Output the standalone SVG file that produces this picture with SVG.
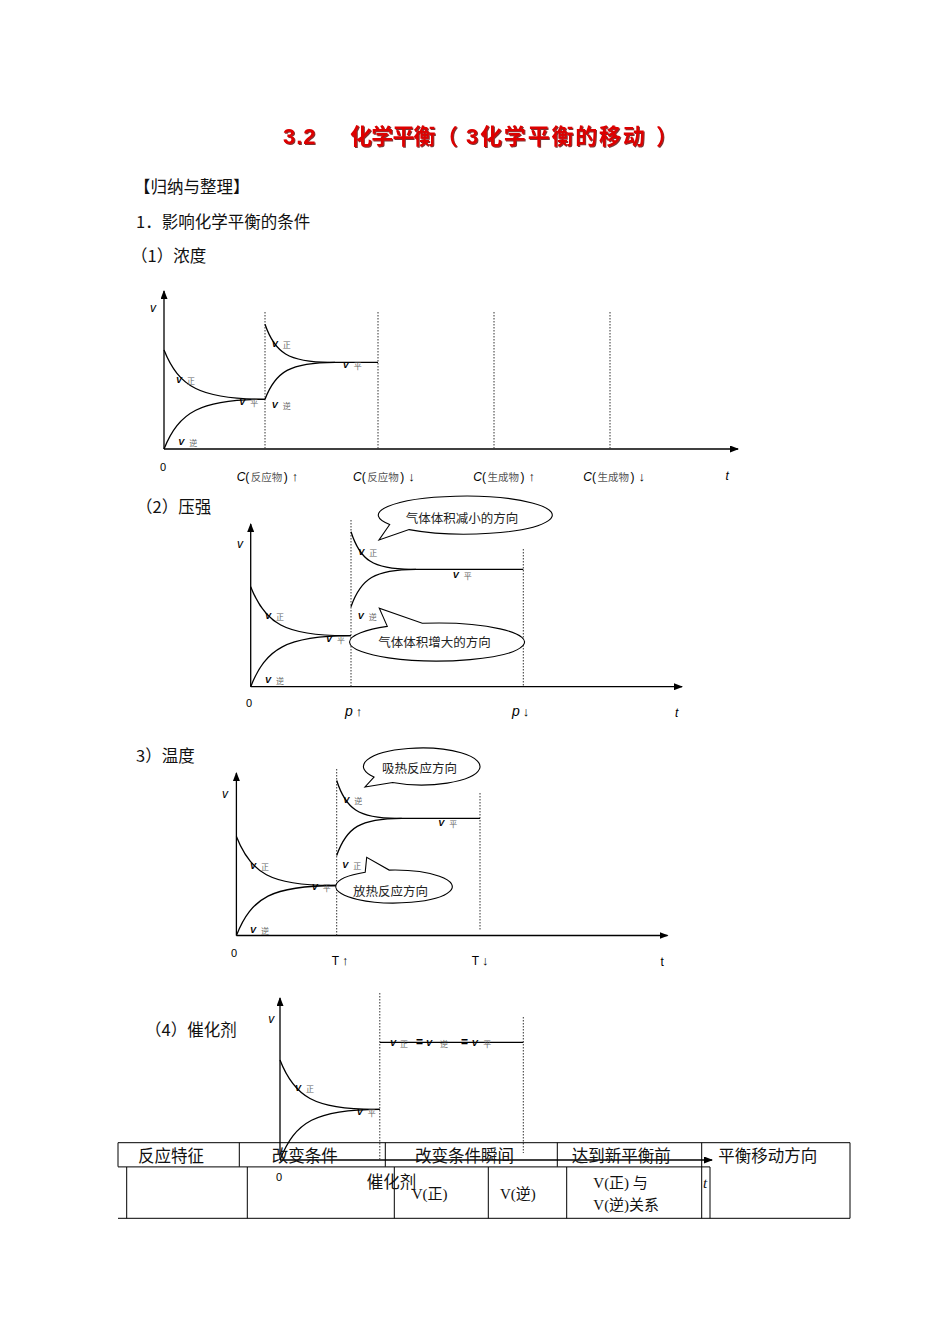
<svg xmlns="http://www.w3.org/2000/svg" width="950" height="1344" viewBox="0 0 950 1344">
<defs>
<marker id="arr" markerUnits="userSpaceOnUse" markerWidth="9" markerHeight="7" refX="8" refY="3.5" orient="auto">
<path d="M0,0 L9,3.5 L0,7 z" fill="#000"/>
</marker>
<filter id="sh" x="-5%" y="-20%" width="110%" height="140%">
<feDropShadow dx="1" dy="1" stdDeviation="0.4" flood-color="#5a0000" flood-opacity="0.8"/>
</filter>
<style>
.title{font-family:"Liberation Sans","Noto Sans CJK SC",sans-serif;font-size:22px;font-weight:bold;fill:#dd0000}
.cn{font-family:"Noto Sans CJK SC",sans-serif;font-size:16.5px;fill:#111}
.ax{stroke:#000;stroke-width:1.3;fill:none}
.cv{stroke:#000;stroke-width:1.3;fill:none}
.ds{stroke:#333;stroke-width:1;stroke-dasharray:1.5 1.5;fill:none}
.ai{font-family:"Liberation Sans","DejaVu Sans",sans-serif;font-style:italic;font-size:12px;fill:#000}
.vl{font-family:"Liberation Sans","DejaVu Sans",sans-serif;font-style:italic;font-weight:bold;font-size:9px;fill:#000}
.sb{font-family:"Noto Sans CJK SC",sans-serif;font-style:normal;font-weight:normal;font-size:8px;fill:#666}
.zr{font-family:"Liberation Sans",sans-serif;font-size:11px;fill:#000}
.cl{font-family:"Liberation Sans","DejaVu Sans",sans-serif;font-size:12px;fill:#000}
.cc{font-family:"Noto Sans CJK SC",sans-serif;font-size:10.5px;fill:#555}
.bub{fill:#fff;stroke:#000;stroke-width:1.1}
.bt{font-family:"Noto Sans CJK SC",sans-serif;font-size:12.5px;fill:#222;text-anchor:middle}
.tb{stroke:#000;stroke-width:1;fill:none}
.tt{font-family:"Liberation Serif","Noto Sans CJK SC",serif;font-size:15px;fill:#111}
</style>
</defs>
<rect width="950" height="1344" fill="#fff"/>

<g id="title" filter="url(#sh)">
<text class="title" y="144"><tspan x="283" letter-spacing="1">3.2</tspan><tspan x="350" letter-spacing="-0.8">化学平衡</tspan><tspan x="436">（</tspan><tspan x="466" letter-spacing="1.8">3化学平衡的移动</tspan><tspan x="656">）</tspan></text>
</g>

<g id="headings">
<text class="cn" x="134" y="193">【归纳与整理】</text>
<text class="cn" x="136" y="228">1．影响化学平衡的条件</text>
<text class="cn" x="131" y="262">（1）浓度</text>
<text class="cn" x="136" y="513">（2）压强</text>
<text class="cn" x="136" y="762">3）温度</text>
<text class="cn" x="145" y="1036">（4）催化剂</text>
</g>

<g id="connectors">
<!-- graph 1 -->
<path class="ax" d="M164,449 V291" marker-end="url(#arr)"/>
<path class="ax" d="M164,449 H738" marker-end="url(#arr)"/>
<path class="ds" d="M265,312 V449 M378,312 V449 M494,312 V449 M610,312 V449"/>
<path class="cv" d="M164,350 C179,387 200,399.3 265,399.3"/>
<path class="cv" d="M164,449 C179,412 200,399.3 265,399.3"/>
<path class="cv" d="M265,324.3 C274.8,352.8 288.4,362.3 330,362.3 L378,362.3"/>
<path class="cv" d="M265,399.3 C275.5,371.6 290.2,362.3 335,362.3"/>
<!-- graph 2 -->
<path class="ax" d="M250.7,686.7 V524" marker-end="url(#arr)"/>
<path class="ax" d="M250.7,686.7 H682" marker-end="url(#arr)"/>
<path class="ds" d="M351,520 V686.7 M523.3,549 V686.7"/>
<path class="cv" d="M250.7,586.7 C265,623.5 284.9,635.7 345.7,635.7 L351,635.7"/>
<path class="cv" d="M250.7,686.7 C265.7,648.4 286.7,635.7 350.7,635.7"/>
<path class="cv" d="M351,531.7 C360,559.9 372.6,569.3 411,569.3 L523.3,569.3"/>
<path class="cv" d="M351,606.7 C360.8,578.7 374.4,569.3 416,569.3"/>
<!-- graph 3 -->
<path class="ax" d="M236.4,935.5 V773" marker-end="url(#arr)"/>
<path class="ax" d="M236.4,935.5 H667.5" marker-end="url(#arr)"/>
<path class="ds" d="M336.7,769 V935.5 M480,793 V930"/>
<path class="cv" d="M236.4,836.5 C250.7,873.3 270.6,885.5 331.4,885.5 L336.7,885.5"/>
<path class="cv" d="M236.4,935.5 C251.4,897.2 272.4,885.5 336.4,885.5"/>
<path class="cv" d="M336.7,780.5 C345.7,808.7 358.3,818.3 396.7,818.3 L480,818.3"/>
<path class="cv" d="M336.7,855.5 C346.5,827.5 360.1,818.3 401.7,818.3"/>
<!-- graph 4 -->
<path class="ax" d="M280,1160 V998" marker-end="url(#arr)"/>
<path class="ax" d="M280,1160 H712" marker-end="url(#arr)"/>
<path class="ds" d="M379.8,993 V1160 M523.3,1017 V1153"/>
<path class="cv" d="M280,1060 C294.3,1096.8 314.2,1109.3 374.5,1109.3 L379.8,1109.3"/>
<path class="cv" d="M280,1160 C295,1121.7 316,1109.3 379.5,1109.3"/>
<path class="cv" d="M379.8,1042.3 L523.3,1042.3"/>
</g>

<g id="graph1-labels">
<text class="ai" x="150" y="312">v</text>
<text class="vl" x="176" y="383">V<tspan class="sb" dx="5" dy="1">正</tspan></text>
<text class="vl" x="239.3" y="405">V<tspan class="sb" dx="5" dy="1">平</tspan></text>
<text class="vl" x="271.7" y="408">V<tspan class="sb" dx="5" dy="1">逆</tspan></text>
<text class="vl" x="178.3" y="445">V<tspan class="sb" dx="5" dy="1">逆</tspan></text>
<text class="vl" x="271.7" y="347">V<tspan class="sb" dx="5" dy="1">正</tspan></text>
<text class="vl" x="342.7" y="368">V<tspan class="sb" dx="5" dy="1">平</tspan></text>
<text class="zr" x="160" y="470.5">0</text>
<text class="cl" x="236.7" y="480.5"><tspan font-style="italic">C</tspan>(<tspan class="cc" dx="1.5">反应物</tspan><tspan dx="1.5">)</tspan><tspan dx="4" font-size="13">↑</tspan></text>
<text class="cl" x="353" y="480.5"><tspan font-style="italic">C</tspan>(<tspan class="cc" dx="1.5">反应物</tspan><tspan dx="1.5">)</tspan><tspan dx="4" font-size="13">↓</tspan></text>
<text class="cl" x="473.3" y="480.5"><tspan font-style="italic">C</tspan>(<tspan class="cc" dx="1.5">生成物</tspan><tspan dx="1.5">)</tspan><tspan dx="4" font-size="13">↑</tspan></text>
<text class="cl" x="583.3" y="480.5"><tspan font-style="italic">C</tspan>(<tspan class="cc" dx="1.5">生成物</tspan><tspan dx="1.5">)</tspan><tspan dx="4" font-size="13">↓</tspan></text>
<text class="ai" x="725.5" y="480" font-size="13">t</text>
</g>

<g id="graph2-labels">
<text class="ai" x="237" y="548">v</text>
<text class="vl" x="265" y="619">V<tspan class="sb" dx="5" dy="1">正</tspan></text>
<text class="vl" x="326" y="642">V<tspan class="sb" dx="5" dy="1">平</tspan></text>
<text class="vl" x="265" y="683">V<tspan class="sb" dx="5" dy="1">逆</tspan></text>
<text class="vl" x="358.3" y="555">V<tspan class="sb" dx="5" dy="1">正</tspan></text>
<text class="vl" x="452.7" y="578">V<tspan class="sb" dx="5" dy="1">平</tspan></text>
<text class="vl" x="357.7" y="619">V<tspan class="sb" dx="5" dy="1">逆</tspan></text>
<text class="zr" x="246" y="707">0</text>
<text class="cl" x="345" y="716"><tspan font-style="italic" font-size="14">p</tspan><tspan dx="3" font-size="13">↑</tspan></text>
<text class="cl" x="512" y="716"><tspan font-style="italic" font-size="14">p</tspan><tspan dx="3" font-size="13">↓</tspan></text>
<text class="ai" x="675" y="717" font-size="13">t</text>
</g>

<g id="bubble-decrease">
<path class="bub" d="M389.7,524.5 L379,540 L409.1,529.6 A87,19 0 1 0 389.7,524.5 Z"/>
<text class="bt" x="462" y="522.5">气体体积减小的方向</text>
</g>
<g id="bubble-increase">
<path class="bub" d="M387.3,626.4 L379.3,608.3 L422.3,623.3 A87.5,19 0 1 1 387.3,626.4 Z"/>
<text class="bt" x="434.5" y="646.5">气体体积增大的方向</text>
</g>

<g id="graph3-labels">
<text class="ai" x="222" y="798">v</text>
<text class="vl" x="250" y="869">V<tspan class="sb" dx="5" dy="1">正</tspan></text>
<text class="vl" x="311.7" y="890">V<tspan class="sb" dx="5" dy="1">平</tspan></text>
<text class="vl" x="250" y="933">V<tspan class="sb" dx="5" dy="1">逆</tspan></text>
<text class="vl" x="343.3" y="803">V<tspan class="sb" dx="5" dy="1">逆</tspan></text>
<text class="vl" x="438.3" y="826">V<tspan class="sb" dx="5" dy="1">平</tspan></text>
<text class="vl" x="342.3" y="868">V<tspan class="sb" dx="5" dy="1">正</tspan></text>
<text class="zr" x="231" y="957">0</text>
<text class="cl" x="331.7" y="964.5">T<tspan dx="3" font-size="13">↑</tspan></text>
<text class="cl" x="471.7" y="964.5">T<tspan dx="3" font-size="13">↓</tspan></text>
<text class="cl" x="660.5" y="966" font-size="13">t</text>
</g>

<g id="bubble-endo">
<path class="bub" d="M374,777.1 L365,787 L392.6,782.5 A58.3,18.5 0 1 0 374,777.1 Z"/>
<text class="bt" x="419.5" y="772.5">吸热反应方向</text>
</g>
<g id="bubble-exo">
<path class="bub" d="M365.2,872.2 L366.7,857.3 L389.2,870.1 A58.3,16.5 0 1 1 365.2,872.2 Z"/>
<text class="bt" x="390.5" y="895.5">放热反应方向</text>
</g>

<g id="table">
<path class="tb" d="M118,1142.7 H850 M118,1142.7 V1166.7 M118,1166.9 H710 M239.3,1142.7 V1166.7 M385.3,1142.7 V1166.7 M557.3,1142.7 V1166.7 M701.7,1142.7 V1218.3 M850,1142.7 V1218.3 M126.7,1167 V1218.3 M247.3,1167 V1218.3 M394.3,1167 V1218.3 M488.3,1167 V1218.3 M566.7,1167 V1218.3 M710,1167 V1218.3 M118,1218.3 H850"/>
<text class="cn" x="138" y="1161.5" font-size="16">反应特征</text>
<text class="cn" x="271.7" y="1161.5" font-size="16">改变条件</text>
<text class="cn" x="415" y="1161.5" font-size="16">改变条件瞬间</text>
<text class="cn" x="571.7" y="1161.5" font-size="16">达到新平衡前</text>
<text class="cn" x="718.3" y="1161.5" font-size="16">平衡移动方向</text>
<text class="cn" x="366.7" y="1188" font-size="13">催化剂</text>
<text class="tt" x="411.7" y="1199">V(正)</text>
<text class="tt" x="500" y="1199">V(逆)</text>
<text class="tt" x="593.3" y="1188">V(正) 与</text>
<text class="tt" x="593.3" y="1209.5">V(逆)关系</text>
</g>

<g id="graph4-labels">
<text class="ai" x="268.3" y="1023">v</text>
<text class="vl" x="295" y="1091">V<tspan class="sb" dx="5" dy="1">正</tspan></text>
<text class="vl" x="356.7" y="1115">V<tspan class="sb" dx="5" dy="1">平</tspan></text>
<text class="vl" y="1045.5"><tspan x="390">V</tspan><tspan class="sb" x="400" dy="1">正</tspan><tspan x="416" dy="-1" font-style="normal" font-size="12">=</tspan><tspan x="426">V</tspan><tspan class="sb" x="440" dy="1">逆</tspan><tspan x="461" dy="-1" font-style="normal" font-size="12">=</tspan><tspan x="471.7">V</tspan><tspan class="sb" x="483.3" dy="1">平</tspan></text>
<text class="zr" x="276" y="1180.5">0</text>
<text class="tt" x="703" y="1188" font-style="italic" font-size="14">t</text>
</g>
</svg>
